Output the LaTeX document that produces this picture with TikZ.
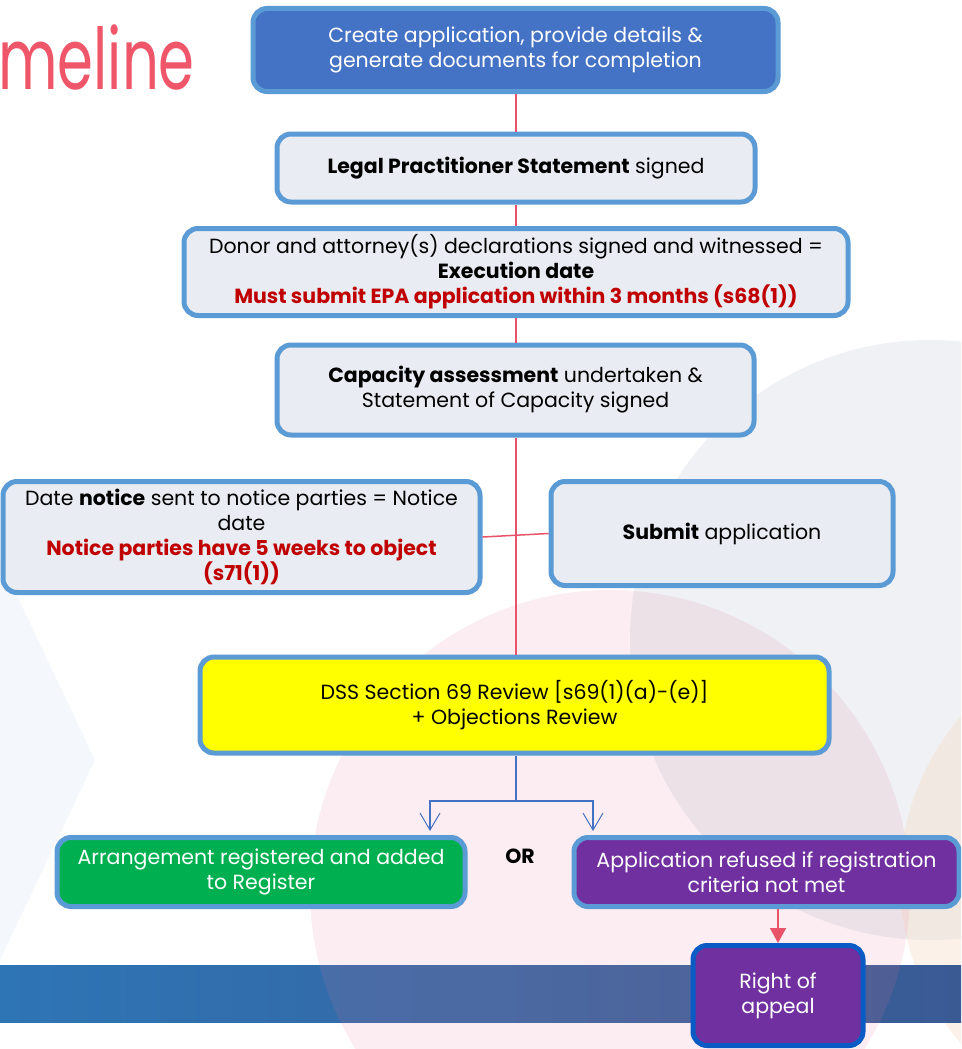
\documentclass[tikz,border=0pt]{standalone}
\usepackage{fontspec}
\setmainfont{Poppins}
\usetikzlibrary{arrows.meta,shadings}
\definecolor{boxblue}{HTML}{5B9BD5}
\definecolor{boxgray}{HTML}{E9ECF2}
\definecolor{topfill}{HTML}{4472C4}
\definecolor{yel}{HTML}{FFFF00}
\definecolor{grn}{HTML}{00B050}
\definecolor{purp}{HTML}{7030A0}
\definecolor{darkred}{HTML}{C00000}
\definecolor{redline}{HTML}{E8536A}
\definecolor{arrowblue}{HTML}{4472C4}
\definecolor{appealborder}{HTML}{0A5BC4}
\definecolor{titlepink}{HTML}{F0566A}
\definecolor{bandleft}{HTML}{2E75B6}
\definecolor{bandright}{HTML}{3A5A94}
\definecolor{circpink}{HTML}{E67896}
\definecolor{circgray}{HTML}{DDE1EA}
\definecolor{circorange}{HTML}{F9D9BF}
\definecolor{triblue}{HTML}{DCEBF8}
\newcommand{\boxfont}{\fontsize{20.5}{25}\selectfont}
\tikzset{
  fbox/.style={draw=boxblue, line width=5pt, rounded corners=14pt, fill=boxgray,
    align=center, font=\boxfont, inner sep=0pt, text=black},
  redconn/.style={draw=redline, line width=1.5pt},
  blueconn/.style={draw=arrowblue, line width=1.2pt, -{Straight Barb[length=17pt,width=20pt,line width=1pt]}},
}
\begin{document}
\begin{tikzpicture}[x=1pt,y=-1pt]
\useasboundingbox (0,0) rectangle (961,1049);
\clip (0,0) rectangle (961,1049);
% background decoration
\fill[white] (0,0) rectangle (961,1049);
\fill[triblue, opacity=0.3] (0,560) -- (95,760) -- (0,960) -- cycle;
\fill[circgray, opacity=0.45] (930,640) circle (300);
\fill[circorange, opacity=0.35] (1150,880) circle (250);
\shade[left color=bandleft, right color=bandright] (0,965) rectangle (961,1022);
\fill[circpink, opacity=0.13] (610,890) circle (300);
% title
\node[anchor=base east, text=titlepink, font=\fontsize{76}{76}\selectfont, inner sep=0pt] (title) at (195,89) {\scalebox{0.76}[1.12]{meline}};
% connector end points
\coordinate (split) at (516,801);
\coordinate (gtop) at (430,831);
\coordinate (ptop) at (593,831);
% boxes
\node[fbox, fill=topfill, text=white, minimum width=525pt, minimum height=83pt] (top) at (515.5,50)
  {Create application, provide details \&\\generate documents for completion};
\node[fbox, minimum width=478pt, minimum height=68pt] (legal) at (516,168)
  {\textbf{Legal Practitioner Statement} signed};
\node[fbox, minimum width=664pt, minimum height=87pt] (donor) at (516,272)
  {Donor and attorney(s) declarations signed and witnessed =\\\textbf{Execution date}\\\textcolor{darkred}{\textbf{Must submit EPA application within 3 months (s68(1))}}};
\node[fbox, minimum width=477pt, minimum height=90pt] (cap) at (515.5,390)
  {\textbf{Capacity assessment} undertaken \&\\Statement of Capacity signed};
\node[fbox, minimum width=477pt, minimum height=111pt] (notice) at (241.5,537)
  {Date \textbf{notice} sent to notice parties = Notice\\date\\\textcolor{darkred}{\textbf{Notice parties have 5 weeks to object}}\\\textcolor{darkred}{\textbf{(s71(1))}}};
\node[fbox, minimum width=342pt, minimum height=104pt] (submit) at (722,533.5)
  {\textbf{Submit} application};
\node[fbox, fill=yel, minimum width=629pt, minimum height=96pt] (dss) at (514.5,705)
  {DSS Section 69 Review [s69(1)(a)-(e)]\\+ Objections Review};
\node[fbox, fill=grn, text=white, minimum width=408pt, minimum height=69pt] (green) at (261,872)
  {Arrangement registered and added\\to Register};
\node[fbox, fill=purp, text=white, minimum width=385pt, minimum height=69pt] (purple) at (766.5,872)
  {Application refused if registration\\criteria not met};
\node[fbox, draw=appealborder, fill=purp, text=white, minimum width=170pt, minimum height=100pt] (appeal) at (778,995.5)
  {Right of\\appeal};
\node[font=\boxfont\bfseries] (or) at (520,856) {OR};
% connectors
\draw[redconn] (top.south -| 516,0) -- (legal.north -| 516,0);
\draw[redconn] (legal.south -| 516,0) -- (donor.north -| 516,0);
\draw[redconn] (donor.south -| 516,0) -- (cap.north -| 516,0);
\draw[redconn] (cap.south -| 516,0) -- (dss.north -| 516,0);
\draw[redconn] (notice.east) -- (submit.west);
\draw[draw=arrowblue, line width=1.2pt] (dss.south -| split) -- (split);
\draw[blueconn] (split) -| (gtop);
\draw[blueconn] (split) -| (ptop);
\draw[redconn, -{Triangle[length=15pt,width=16pt]}, fill=redline] (purple.south -| appeal.north) -- (appeal.north);
\end{tikzpicture}
\end{document}
